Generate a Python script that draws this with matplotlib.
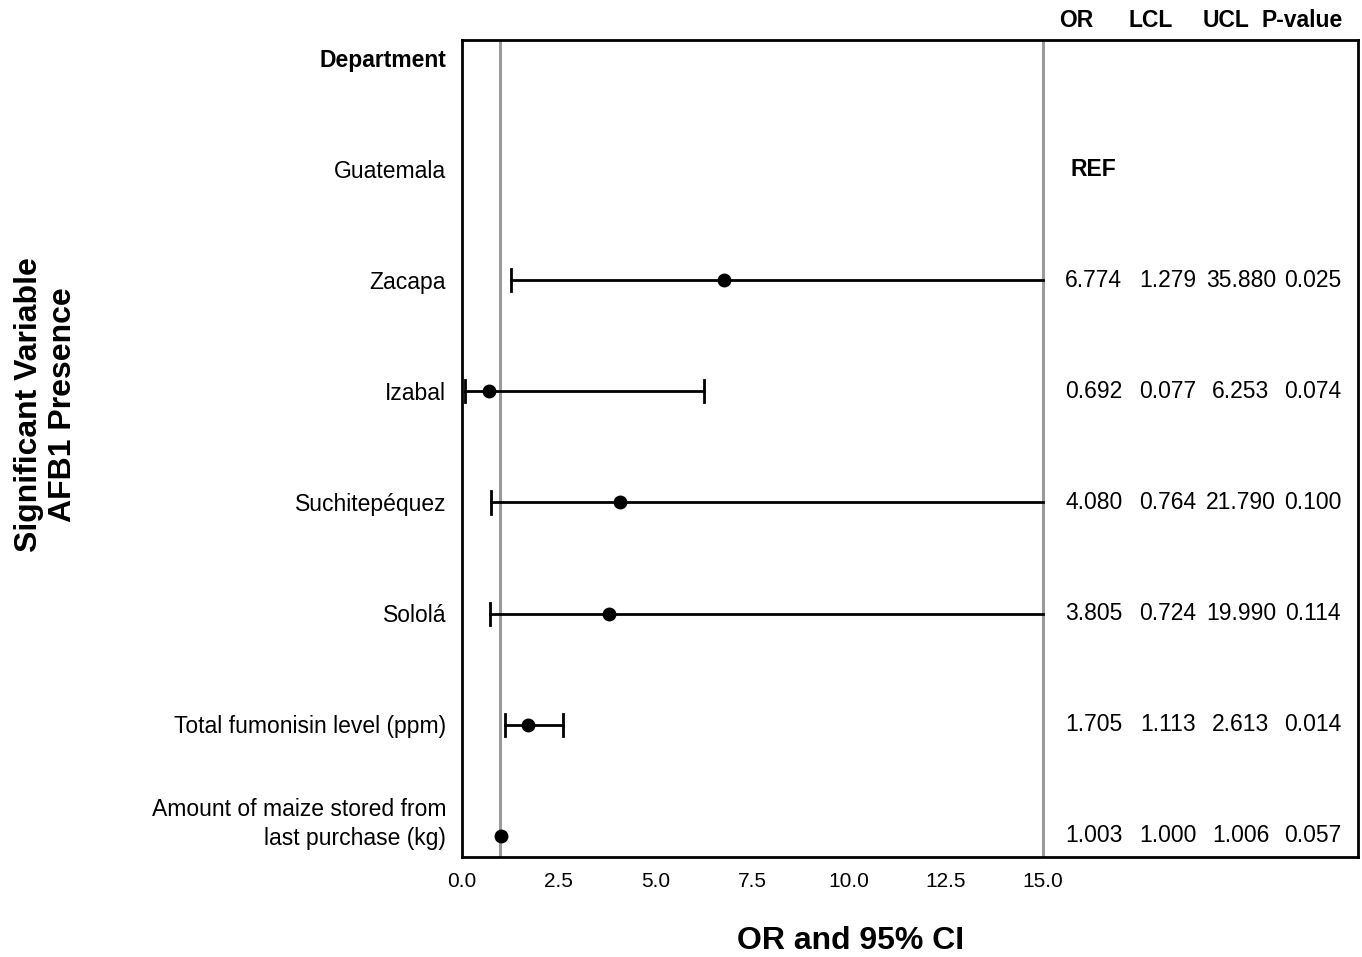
import numpy as np
import matplotlib.pyplot as plt

plt.rcParams['font.family'] = ['Liberation Sans', 'DejaVu Sans']

# Zeilen (von oben nach unten)
labels = ["Department", "Guatemala", "Zacapa", "Izabal", "Suchitepéquez",
          "Sololá", "Total fumonisin level (ppm)",
          "Amount of maize stored from\nlast purchase (kg)"]
odds = [np.nan, np.nan, 6.774, 0.692, 4.080, 3.805, 1.705, 1.003]
lcl = [np.nan, np.nan, 1.279, 0.077, 0.764, 0.724, 1.113, 1.000]
ucl = [np.nan, np.nan, 35.880, 6.253, 21.790, 19.990, 2.613, 1.006]
pvals = [np.nan, np.nan, 0.025, 0.074, 0.100, 0.114, 0.014, 0.057]

x_max = 15.0
ref_line = 1.0
fs = 16.5

fig = plt.figure(figsize=(13.62, 9.57), dpi=100)
ax = fig.add_axes([0.339, 0.1045, 0.658, 0.8535])

y = np.arange(len(labels))

# Referenzlinien
ax.axvline(ref_line, color="#9a9a9a", lw=2.2, zorder=1)
ax.axvline(x_max, color="#9a9a9a", lw=2.2, zorder=1)

# Konfidenzintervalle
cap = 0.1
for yi, o, lo, hi in zip(y, odds, lcl, ucl):
    if np.isnan(o):
        continue
    hi_c = min(hi, x_max)
    ax.plot([lo, hi_c], [yi, yi], color="black", lw=2, zorder=2)
    if hi - lo > 0.05:
        ax.plot([lo, lo], [yi - cap, yi + cap], color="black", lw=2, zorder=2)
        if hi <= x_max:
            ax.plot([hi, hi], [yi - cap, yi + cap], color="black", lw=2, zorder=2)
    ax.plot(o, yi, "o", color="black", ms=9, zorder=3)

ax.set_xlim(0, 23.14)
ax.set_ylim(7.19, -0.16)
ticks = np.arange(0, 15.1, 2.5)
ax.set_xticks(ticks)
ax.set_xticklabels([f"{v:.1f}" for v in ticks], fontsize=15)
ax.tick_params(axis="x", length=0, pad=11)
ax.set_yticks([])
for s in ax.spines.values():
    s.set_linewidth(2)

# Zeilenbeschriftungen
for yi, lab in zip(y[:-1], labels[:-1]):
    bold = "bold" if lab == "Department" else "normal"
    ax.text(-0.4, yi + 0.02, lab, ha="right", va="center", fontsize=fs,
            fontweight=bold)
ax.text(-0.4, 7.13, labels[-1], ha="right", va="bottom", fontsize=fs,
        linespacing=1.35)

# Tabelle rechts
col_x = [16.32, 18.23, 20.12, 21.98]
head_x = [15.88, 17.79, 19.73, 21.70]
for hx, h in zip(head_x, ["OR", "LCL", "UCL", "P-value"]):
    ax.text(hx, -0.34, h, ha="center", va="center", fontsize=fs,
            fontweight="bold", clip_on=False)
ax.text(16.32, 1.0, "REF", ha="center", va="center", fontsize=fs, fontweight="bold")
for yi, o, lo, hi, p in zip(y, odds, lcl, ucl, pvals):
    if np.isnan(o):
        continue
    for cx, v in zip(col_x, [o, lo, hi, p]):
        ax.text(cx, yi, f"{v:.3f}", ha="center", va="center", fontsize=fs)

fig.text(851 / 1362, 1 - 941 / 957, "OR and 95% CI", ha="center", va="center",
         fontsize=23, fontweight="bold")
fig.text(46 / 1362, 1 - 405 / 957, "Significant Variable\nAFB1 Presence", ha="center",
         va="center", rotation=90, fontsize=23, fontweight="bold", linespacing=1.15)

fig.savefig("out.png", dpi=100)
